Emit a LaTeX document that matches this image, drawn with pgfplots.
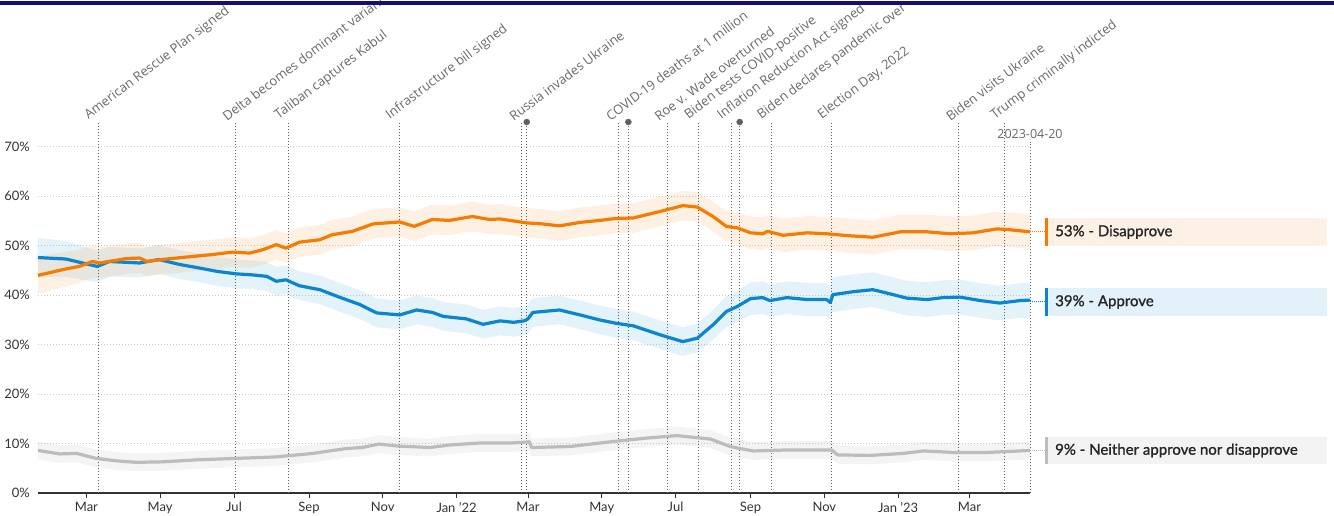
\documentclass[border=0pt]{standalone}
\usepackage{pgfplots}
\usepackage{pgfplotstable}
\pgfplotsset{compat=1.18}
\usepgfplotslibrary{fillbetween}
\usepackage{fontspec}
\setmainfont{Lato}
\newfontfamily\opensans{Open Sans}
\newfontfamily\latomed[FakeBold=1.2]{Lato}

\definecolor{cOr}{RGB}{245,124,0}
\definecolor{cBl}{RGB}{10,133,208}
\definecolor{cGr}{RGB}{188,188,188}
\definecolor{evt}{RGB}{95,95,95}
\definecolor{lbl}{RGB}{105,105,105}
\definecolor{tickc}{RGB}{51,51,51}
\definecolor{navy}{RGB}{20,16,112}
\definecolor{orbox}{RGB}{253,240,228}
\definecolor{blbox}{RGB}{226,241,250}
\definecolor{grbox}{RGB}{243,243,243}

\tikzset{evtlbl/.style={rotate=37, anchor=south west, inner sep=0pt,
        font=\opensans\fontsize{13}{13}\selectfont, text=lbl}}

% days since 2021-01-01, value in %, half width of band
\pgfplotstableread{
x y w
19 47.6 4.0
42 47.3 3.6
68 45.8 3.2
78 46.8 3.0
103 46.5 2.9
119 47.2 2.9
136 46.2 2.9
152 45.5 2.9
167 44.8 2.9
183 44.3 2.9
196 44.1 2.9
208 43.8 2.9
216 42.8 2.9
224 43.1 2.9
235 41.9 2.9
252 41.1 2.9
268 39.6 2.9
285 38.1 2.9
299 36.4 2.9
318 36.0 2.9
332 37.0 2.9
345 36.5 2.9
354 35.7 2.9
373 35.2 2.9
387 34.1 2.9
401 34.8 2.9
412 34.5 2.9
421 34.8 2.9
424 35.2 2.9
428 36.5 2.9
450 37.0 2.9
467 36.0 2.9
483 35.0 2.9
497 34.3 2.9
511 33.8 2.9
533 32.0 2.9
552 30.6 2.9
564 31.3 2.9
577 34.0 3.0
588 36.7 3.1
597 37.7 3.2
608 39.3 3.3
618 39.5 3.3
624 38.9 3.3
638 39.5 3.3
655 39.1 3.4
671 39.1 3.4
674 38.5 3.4
676 40.1 3.5
693 40.7 3.5
709 41.1 3.5
721 40.4 3.5
737 39.4 3.5
754 39.1 3.5
767 39.5 3.5
781 39.6 3.5
798 38.9 3.5
814 38.4 3.5
831 38.9 3.5
839 39.0 3.5
}\approve

\pgfplotstableread{
x y w
19 44.0 3.8
42 45.3 3.5
53 45.8 3.4
64 46.8 3.3
70 46.5 3.2
92 47.4 3.1
103 47.5 3.0
109 46.8 3.0
125 47.3 3.0
142 47.7 3.0
163 48.2 3.0
180 48.7 3.0
194 48.5 3.0
205 49.2 3.0
216 50.2 3.0
224 49.5 3.0
235 50.7 3.0
252 51.2 3.0
262 52.2 3.0
279 52.9 3.0
296 54.4 3.0
318 54.8 3.0
330 53.9 3.0
345 55.3 3.0
359 55.1 3.0
378 55.9 3.0
392 55.3 3.0
401 55.4 3.0
423 54.6 3.0
436 54.4 3.0
450 54.0 3.0
467 54.7 3.0
483 55.1 3.0
497 55.5 3.0
511 55.6 3.0
533 56.9 3.0
552 58.1 3.0
564 57.8 3.0
577 55.9 3.0
588 53.9 3.1
597 53.6 3.2
608 52.6 3.3
618 52.4 3.3
622 52.9 3.3
635 52.1 3.4
655 52.6 3.4
671 52.4 3.4
690 52.0 3.5
709 51.7 3.5
732 52.8 3.5
754 52.8 3.5
773 52.4 3.5
792 52.6 3.5
812 53.4 3.5
823 53.2 3.5
839 52.8 3.5
}\disapprove

\pgfplotstableread{
x y w
19 8.6 1.8
37 7.9 1.8
51 8.0 1.8
67 7.0 1.8
84 6.5 1.8
100 6.2 1.8
122 6.3 1.8
150 6.7 1.8
183 7.0 1.8
216 7.3 1.8
246 8.0 1.8
274 9.0 1.8
287 9.2 1.8
301 9.9 1.8
316 9.5 1.8
343 9.2 1.8
359 9.7 1.8
384 10.1 1.8
409 10.1 1.8
423 10.3 1.8
425 10.4 1.8
427 9.2 1.8
459 9.4 1.8
494 10.4 1.8
522 11.1 1.8
547 11.6 1.8
575 10.9 1.8
591 9.4 1.8
610 8.5 1.8
638 8.7 1.8
675 8.7 1.8
680 7.7 1.8
707 7.6 1.8
734 8.0 1.8
751 8.5 1.8
776 8.2 1.8
804 8.2 1.8
839 8.6 1.8
}\neither

\begin{document}
\begin{tikzpicture}
\begin{axis}[
    scale only axis,
    width=992pt, height=371pt,
    xmin=19, xmax=839, ymin=0, ymax=75,
    enlargelimits=false,
    clip=false,
    axis x line*=bottom,
    axis y line*=left,
    y axis line style={draw=none},
    x axis line style={draw=tickc, line width=1.2pt},
    ytick={0,10,20,30,40,50,60,70},
    yticklabel={\pgfmathprintnumber{\tick}\%},
    ytick style={draw=none},
    xtick={59,120,181,243,304,365,424,485,546,608,669,730,789},
    xticklabels={Mar,May,Jul,Sep,Nov,Jan '22,Mar,May,Jul,Sep,Nov,Jan '23,Mar},
    xtick style={draw=tickc, line width=0.8pt},
    tick align=outside,
    major tick length=5pt,
    tick label style={font=\fontsize{13}{15}\selectfont, text=tickc},
    yticklabel style={anchor=east, inner sep=0pt, xshift=-3pt},
    xticklabel style={inner sep=0pt, yshift=-4pt},
    /pgf/number format/assume math mode=true,
    ymajorgrids,
    major grid style={dash pattern=on 1pt off 2pt, draw=gray!40, line width=0.6pt},
]

% event lines
\addplot[ycomb, evt, dash pattern=on 1.2pt off 1.8pt, line width=0.9pt, mark=none, forget plot]
    coordinates {(69,75) (182,75) (226,75) (318,75) (419,75) (423,75)
    (499,75) (507,75) (539,75) (565,75) (592,75) (599,75) (625,75)
    (675,75) (780,75) (818,75) (839,71)};

% uncertainty bands
\addplot[name path=au, draw=none, forget plot] table[x=x, y expr=\thisrow{y}+\thisrow{w}] {\approve};
\addplot[name path=al, draw=none, forget plot] table[x=x, y expr=\thisrow{y}-\thisrow{w}] {\approve};
\addplot[cBl, fill opacity=0.11, forget plot] fill between[of=au and al];
\addplot[name path=du, draw=none, forget plot] table[x=x, y expr=\thisrow{y}+\thisrow{w}] {\disapprove};
\addplot[name path=dl, draw=none, forget plot] table[x=x, y expr=\thisrow{y}-\thisrow{w}] {\disapprove};
\addplot[cOr, fill opacity=0.11, forget plot] fill between[of=du and dl];
\addplot[name path=nu, draw=none, forget plot] table[x=x, y expr=\thisrow{y}+\thisrow{w}] {\neither};
\addplot[name path=nl, draw=none, forget plot] table[x=x, y expr=\thisrow{y}-\thisrow{w}] {\neither};
\addplot[gray, fill opacity=0.09, forget plot] fill between[of=nu and nl];

% lines
\addplot[cGr, line width=3.2pt, line join=round] table[x=x, y=y] {\neither};
\addplot[cBl, line width=3.2pt, line join=round] table[x=x, y=y] {\approve};
\addplot[cOr, line width=3.2pt, line join=round] table[x=x, y=y] {\disapprove};

% grouped event markers
\addplot[only marks, mark=*, mark size=3pt, evt] coordinates {(423,75) (507,75) (599,75)};

\node[evtlbl] at (axis cs:62.4,75) {American Rescue Plan signed};
\node[evtlbl] at (axis cs:175.4,75) {Delta becomes dominant variant};
\node[evtlbl] at (axis cs:219.4,75) {Taliban captures Kabul};
\node[evtlbl] at (axis cs:311.4,75) {Infrastructure bill signed};
\node[evtlbl] at (axis cs:412.4,75) {Russia invades Ukraine};
\node[evtlbl] at (axis cs:492.4,75) {COVID-19 deaths at 1 million};
\node[evtlbl] at (axis cs:532.4,75) {Roe v. Wade overturned};
\node[evtlbl] at (axis cs:558.4,75) {Biden tests COVID-positive};
\node[evtlbl] at (axis cs:585.4,75) {Inflation Reduction Act signed};
\node[evtlbl] at (axis cs:618.4,75) {Biden declares pandemic over};
\node[evtlbl] at (axis cs:668.4,75) {Election Day, 2022};
\node[evtlbl] at (axis cs:773.4,75) {Biden visits Ukraine};
\node[evtlbl] at (axis cs:811.4,75) {Trump criminally indicted};
\node[font=\opensans\fontsize{12.5}{12.5}\selectfont, text=lbl, inner sep=0pt] at (axis cs:839,72.6) {2023-04-20};
\end{axis}

% top rule
\fill[navy] (-38pt,488pt) rectangle (1296pt,491.5pt);

% end labels
\draw[cOr, densely dotted, line width=1pt] (992pt,261pt) -- (1007pt,261pt);
\fill[orbox] (1007pt,247pt) rectangle (1289pt,275pt);
\fill[cOr] (1007pt,247pt) rectangle (1010pt,275pt);
\node[anchor=west, inner sep=0pt, font=\latomed\fontsize{15}{15}\selectfont, text=black!85] at (1017pt,261pt) {53\% - Disapprove};

\draw[cBl, densely dotted, line width=1pt] (992pt,192pt) -- (1007pt,192pt);
\fill[blbox] (1007pt,177pt) rectangle (1289pt,205pt);
\fill[cBl] (1007pt,177pt) rectangle (1010pt,205pt);
\node[anchor=west, inner sep=0pt, font=\latomed\fontsize{15}{15}\selectfont, text=black!85] at (1017pt,191pt) {39\% - Approve};

\draw[cGr, densely dotted, line width=1pt] (992pt,42.5pt) -- (1007pt,42.5pt);
\fill[grbox] (1007pt,29pt) rectangle (1289pt,56pt);
\fill[cGr] (1007pt,29pt) rectangle (1010pt,56pt);
\node[anchor=west, inner sep=0pt, font=\latomed\fontsize{15}{15}\selectfont, text=black!85] at (1017pt,42.5pt) {9\% - Neither approve nor disapprove};

\pgfresetboundingbox
\path (-38pt,-22pt) rectangle (1296pt,493pt);
\end{tikzpicture}
\end{document}
